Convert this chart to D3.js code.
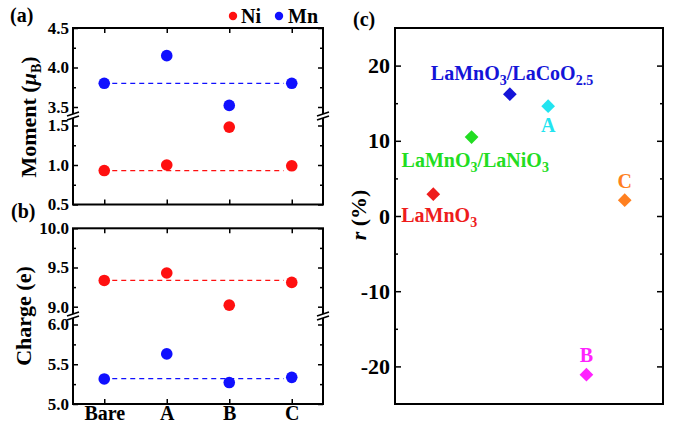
<!DOCTYPE html>
<html>
<head>
<meta charset="utf-8">
<script src="https://cdn.jsdelivr.net/npm/d3@7"></script>
<style>
  body { margin: 0; background: #fff; }
  text { font-family: "Liberation Serif", "Times New Roman", serif; font-weight: bold; }
</style>
</head>
<body>
<svg id="fig" width="679" height="425"></svg>
<script>
// ---- data ----
var samples = ["Bare", "A", "B", "C"];
var momentNi = [0.93, 1.00, 1.48, 0.99];
var momentMn = [3.80, 4.15, 3.52, 3.80];
var chargeNi = [9.335, 9.43, 9.02, 9.31];
var chargeMn = [5.315, 5.63, 5.27, 5.335];
var momentRef = {Ni: 0.93, Mn: 3.80};
var chargeRef = {Ni: 9.335, Mn: 5.32};

var rNames = ["LaMnO3", "LaMnO3/LaNiO3", "LaMnO3/LaCoO2.5", "A", "B", "C"];
var rValues = [2.9, 10.5, 16.2, 14.6, -21.1, 2.1];
var rColors = ["#ee1c1c", "#22dd22", "#1414d8", "#22e4f0", "#ff22ff", "#ff8020"];

var red = "#ff1010", blue = "#1010ff";
var svg = d3.select("#fig");

// ---- broken-axis panel, used for (a) and (b) ----
function brokenPanel(o) {
  var g = svg.append("g");
  var x = d3.scaleLinear().domain([0.5, 4.5]).range([73, 323]);
  var yU = d3.scaleLinear().domain(o.upDom).range(o.upRange);
  var yL = d3.scaleLinear().domain(o.loDom).range(o.loRange);
  var top = o.upRange[1], bottom = o.loRange[0];

  function yAxes(scale, major, minor) {
    g.append("g").attr("transform", "translate(73,0)")
      .call(d3.axisLeft(scale).tickValues(major).tickSizeInner(-5).tickSizeOuter(0).tickPadding(4).tickFormat(d3.format(".1f")))
      .call(s => s.selectAll("text").style("font-size", "17px").attr("fill", "#000"));
    g.append("g").attr("transform", "translate(73,0)")
      .call(d3.axisLeft(scale).tickValues(minor).tickSize(-3).tickFormat(""));
    g.append("g").attr("transform", "translate(323,0)")
      .call(d3.axisRight(scale).tickValues(major).tickSize(-5).tickFormat(""));
    g.append("g").attr("transform", "translate(323,0)")
      .call(d3.axisRight(scale).tickValues(minor).tickSize(-3).tickFormat(""));
  }
  yAxes(yU, o.upMajor, o.upMinor);
  yAxes(yL, o.loMajor, o.loMinor);

  var xi = d3.range(1, samples.length + 1);
  g.append("g").attr("transform", "translate(0," + bottom + ")")
    .call(d3.axisBottom(x).tickValues(xi).tickSize(-5).tickPadding(2)
      .tickFormat(o.labels ? (d => samples[d - 1]) : ""))
    .call(s => s.selectAll("text").style("font-size", "20px").attr("fill", "#000"));
  g.append("g").attr("transform", "translate(0," + top + ")")
    .call(d3.axisTop(x).tickValues(xi).tickSize(-5).tickFormat(""));
  g.selectAll(".domain").remove();
  g.selectAll(".tick line").attr("stroke", "#000").attr("stroke-width", 1.5);

  // frame
  g.append("rect").attr("x", 73).attr("y", top).attr("width", 250).attr("height", bottom - top)
    .attr("fill", "none").attr("stroke", "#000").attr("stroke-width", 2);

  // break marks
  [73, 323].forEach(function (bx) {
    g.append("rect").attr("x", bx - 6).attr("y", o.brk - 2).attr("width", 12).attr("height", 4).attr("fill", "#fff");
    [-2, 2].forEach(function (dy) {
      g.append("line").attr("x1", bx - 6).attr("y1", o.brk + dy + 2).attr("x2", bx + 6).attr("y2", o.brk + dy - 2)
        .attr("stroke", "#000").attr("stroke-width", 1.5);
    });
  });

  // dashed reference lines
  o.refs.forEach(function (r) {
    g.append("line").attr("x1", x(1) + 8).attr("x2", x(4) - 8)
      .attr("y1", r.scale(r.v)).attr("y2", r.scale(r.v))
      .attr("stroke", r.c).attr("stroke-width", 1.2).attr("stroke-dasharray", "5,4");
  });

  // points
  o.series.forEach(function (s) {
    g.selectAll(null).data(s.vals).enter().append("circle")
      .attr("cx", (d, i) => x(i + 1)).attr("cy", d => s.scale(d))
      .attr("r", 5.8).attr("fill", s.c);
  });

  var t = g.append("text").attr("transform", "translate(" + o.titleX + "," + o.titleY + ") rotate(-90)")
    .attr("text-anchor", "middle").style("font-size", "22px");
  o.title(t);
  g.append("text").attr("x", o.tagX).attr("y", o.tagY).style("font-size", "20px").text(o.tag);
}

var yUa = d3.scaleLinear().domain([3.5, 4.5]).range([107, 28]);
var yLa = d3.scaleLinear().domain([0.5, 1.5]).range([204.5, 125.5]);
brokenPanel({
  upDom: yUa.domain(), upRange: yUa.range(), loDom: yLa.domain(), loRange: yLa.range(), brk: 116,
  upMajor: [3.5, 4.0, 4.5], upMinor: [3.75, 4.25], loMajor: [0.5, 1.0, 1.5], loMinor: [0.75, 1.25],
  labels: false, tag: "(a)", tagX: 10, tagY: 22,
  titleX: 36, titleY: 117,
  title: function (t) {
    t.append("tspan").text("Moment (");
    t.append("tspan").style("font-style", "italic").text("μ");
    t.append("tspan").attr("dy", 5).style("font-size", "14px").text("B");
    t.append("tspan").attr("dy", -5).text(")");
  },
  refs: [{scale: yUa, v: momentRef.Mn, c: blue}, {scale: yLa, v: momentRef.Ni, c: red}],
  series: [{scale: yUa, vals: momentMn, c: blue}, {scale: yLa, vals: momentNi, c: red}]
});

var yUb = d3.scaleLinear().domain([9.0, 10.0]).range([306.7, 228.3]);
var yLb = d3.scaleLinear().domain([5.0, 6.0]).range([404, 324.5]);
brokenPanel({
  upDom: yUb.domain(), upRange: yUb.range(), loDom: yLb.domain(), loRange: yLb.range(), brk: 316,
  upMajor: [9.0, 9.5, 10.0], upMinor: [9.25, 9.75], loMajor: [5.0, 5.5, 6.0], loMinor: [5.25, 5.75],
  labels: true, tag: "(b)", tagX: 11, tagY: 218,
  titleX: 31, titleY: 316,
  title: function (t) { t.text("Charge (e)"); },
  refs: [{scale: yUb, v: chargeRef.Ni, c: red}, {scale: yLb, v: chargeRef.Mn, c: blue}],
  series: [{scale: yUb, vals: chargeNi, c: red}, {scale: yLb, vals: chargeMn, c: blue}]
});

// legend
var lg = svg.append("g");
lg.append("circle").attr("cx", 233).attr("cy", 16).attr("r", 4.2).attr("fill", red);
lg.append("text").attr("x", 241).attr("y", 23).style("font-size", "20px").text("Ni");
lg.append("circle").attr("cx", 279).attr("cy", 16).attr("r", 4.2).attr("fill", blue);
lg.append("text").attr("x", 288).attr("y", 23).style("font-size", "20px").text("Mn");

// ---- panel (c) ----
var g = svg.append("g");
var xc = d3.scaleLinear().domain([0, 7]).range([395, 663]);
var yc = d3.scaleLinear().domain([-25, 25]).range([404, 28]);
g.append("g").attr("transform", "translate(395,0)")
  .call(d3.axisLeft(yc).tickValues([-20, -10, 0, 10, 20]).tickSizeInner(-6).tickSizeOuter(0).tickPadding(5).tickFormat(d => String(d)))
  .call(s => s.selectAll("text").style("font-size", "22px").attr("fill", "#000"));
g.append("g").attr("transform", "translate(395,0)")
  .call(d3.axisLeft(yc).tickValues([-15, -5, 5, 15]).tickSize(-3).tickFormat(""));
g.append("g").attr("transform", "translate(663,0)")
  .call(d3.axisRight(yc).tickValues([-20, -10, 0, 10, 20]).tickSize(-6).tickFormat(""));
g.append("g").attr("transform", "translate(663,0)")
  .call(d3.axisRight(yc).tickValues([-15, -5, 5, 15]).tickSize(-3).tickFormat(""));
g.selectAll(".domain").remove();
g.selectAll(".tick line").attr("stroke", "#000").attr("stroke-width", 1.5);
g.append("rect").attr("x", 395).attr("y", 28).attr("width", 268).attr("height", 376)
  .attr("fill", "none").attr("stroke", "#000").attr("stroke-width", 2);

var diamond = d3.symbol().type(d3.symbolDiamond2).size(120);
g.selectAll(null).data(rValues).enter().append("path")
  .attr("d", diamond)
  .attr("transform", (d, i) => "translate(" + xc(i + 1) + "," + yc(d) + ")")
  .attr("fill", (d, i) => rColors[i]);

// point labels: [index, dx, dy, anchor]
var lblPos = [[0, -32, 28, "start"], [1, -70, 30, "start"], [2, -79, -14, "start"],
              [3, 0, 26, "middle"], [4, 0, -13, "middle"], [5, 0, -12, "middle"]];
lblPos.forEach(function (p) {
  var i = p[0];
  var t = g.append("text").attr("x", xc(i + 1) + p[1]).attr("y", yc(rValues[i]) + p[2])
    .attr("text-anchor", p[3]).attr("fill", rColors[i]).style("font-size", "20px");
  var parts = rNames[i].split(/(\d+(?:\.\d+)?)/);
  parts.forEach(function (s, k) {
    if (!s) return;
    if (k % 2 === 1) t.append("tspan").attr("dy", 5).style("font-size", "14px").text(s);
    else {
      var ts = t.append("tspan").text(s);
      if (k > 0) ts.attr("dy", -5);
    }
  });
});

var ty = g.append("text").attr("transform", "translate(366,215) rotate(-90)")
  .attr("text-anchor", "middle").style("font-size", "22px");
ty.append("tspan").style("font-style", "italic").text("r");
ty.append("tspan").text(" (%)");
g.append("text").attr("x", 353).attr("y", 26).style("font-size", "20px").text("(c)");
</script>
</body>
</html>
